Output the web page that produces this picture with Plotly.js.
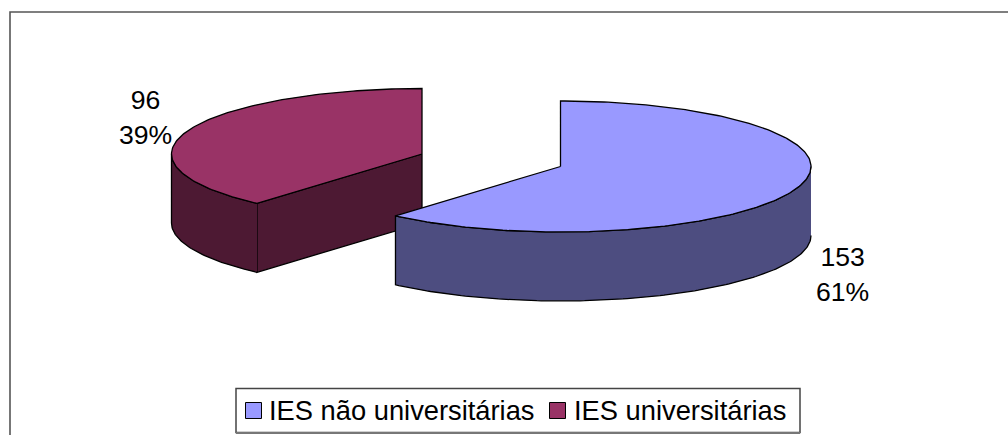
<!DOCTYPE html>
<html>
<head>
<meta charset="utf-8">
<script src="https://cdn.plot.ly/plotly-3.0.1.min.js"></script>
<style>html,body{margin:0;padding:0;background:#fff}#chart{width:1008px;height:435px}</style>
</head>
<body>
<div id="chart"></div>
<script>
// Institution counts shown as an exploded 3D-style pie
const categories = ["IES não universitárias", "IES universitárias"];
const counts = [153, 96];
const topColors = ["#9999FF", "#993366"];
const wallColors = ["#4D4D80", "#4D1933"];

const total = counts.reduce((a, b) => a + b, 0);
const sweep = counts.map(v => v / total * 360);

// Ellipse geometry of each exploded slice, in page units
const radiusX = 250.5, radiusY = 65.5, depth = 69;
const centers = [{x: 560.5, y: 166.5}, {x: 422, y: 154}];

function rimPoint(c, deg, drop) {
  const r = deg * Math.PI / 180;
  return [c.x + radiusX * Math.sin(r), c.y - radiusY * Math.cos(r) + (drop || 0)];
}
function arc(c, from, to, drop) {
  const pts = [], n = Math.max(2, Math.ceil(Math.abs(to - from)));
  for (let i = 0; i <= n; i++) pts.push(rimPoint(c, from + (to - from) * i / n, drop));
  return pts;
}
function polygon(pts, fill) {
  return {
    type: "scatter", mode: "lines", fill: "toself", fillcolor: fill,
    x: pts.map(p => p[0]), y: pts.map(p => p[1]),
    line: {color: "#000", width: 1.3, shape: "linear"},
    hoverinfo: "skip", showlegend: false
  };
}

// Slice 0 runs clockwise from 12 o'clock; slice 1 fills the rest of the turn
const startA = 0, endA = sweep[0], startB = sweep[0], endB = 360;
const traces = [];

// Second slice: cut face, outer wall, then top
const cB = centers[1];
traces.push(polygon([[cB.x, cB.y], rimPoint(cB, startB), rimPoint(cB, startB, depth), [cB.x, cB.y + depth], [cB.x, cB.y]], wallColors[1]));
traces.push(polygon(arc(cB, startB, 270).concat(arc(cB, 270, startB, depth)), wallColors[1]));
traces.push(polygon([[cB.x, cB.y]].concat(arc(cB, startB, endB), [[cB.x, cB.y]]), topColors[1]));

// First slice: outer wall, then top
const cA = centers[0];
traces.push(polygon(arc(cA, 90, endA).concat(arc(cA, endA, 90, depth)), wallColors[0]));
traces.push(polygon([[cA.x, cA.y]].concat(arc(cA, startA, endA), [[cA.x, cA.y]]), topColors[0]));

const fontFamily = "Liberation Sans, Arial, sans-serif";
const valueFont = {family: fontFamily, size: 26.6, color: "#000"};
const keyFont = {family: fontFamily, size: 27.3, color: "#000"};
const pct = counts.map(v => Math.round(v / total * 100) + "%");

const annotations = [
  {x: 842, y: 274, text: counts[0] + "<br>" + pct[0], font: valueFont},
  {x: 145, y: 117, text: counts[1] + "<br>" + pct[1], font: valueFont},
  {x: 268, y: 410, text: categories[0], xanchor: "left", font: keyFont},
  {x: 573, y: 410, text: categories[1], xanchor: "left", font: keyFont}
].map(a => Object.assign({xref: "x", yref: "y", showarrow: false, xanchor: "center", yanchor: "middle", borderpad: 0}, a));

const shapes = [
  // Outer frame runs off the right and bottom of the page
  {type: "rect", xref: "x", yref: "y", x0: 10, y0: 12, x1: 1030, y1: 460, line: {color: "#555", width: 1.6}, layer: "below"},
  // Legend box with its heavier lower edge, then the swatches
  {type: "rect", xref: "x", yref: "y", x0: 236, y0: 388.5, x1: 800, y1: 432.5, line: {color: "#444", width: 1.5}, fillcolor: "#fff"},
  {type: "line", xref: "x", yref: "y", x0: 236, y0: 433, x1: 800, y1: 433, line: {color: "#777", width: 2}},
  {type: "rect", xref: "x", yref: "y", x0: 245.5, y0: 402.5, x1: 261.5, y1: 418.5, line: {color: "#000", width: 1}, fillcolor: topColors[0]},
  {type: "rect", xref: "x", yref: "y", x0: 549.5, y0: 402.5, x1: 565.5, y1: 418.5, line: {color: "#000", width: 1}, fillcolor: topColors[1]}
];

Plotly.newPlot("chart", traces, {
  width: 1008, height: 435,
  margin: {l: 0, r: 0, t: 0, b: 0},
  paper_bgcolor: "#fff", plot_bgcolor: "#fff",
  showlegend: false,
  xaxis: {range: [0, 1008], visible: false, fixedrange: true},
  yaxis: {range: [435, 0], visible: false, fixedrange: true},
  annotations, shapes
}, {staticPlot: true, displayModeBar: false});
</script>
</body>
</html>
